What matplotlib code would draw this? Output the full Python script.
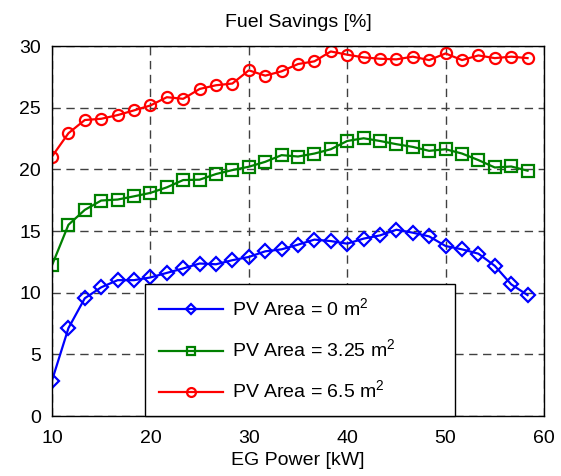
import matplotlib
matplotlib.use('Agg')
import matplotlib.pyplot as plt

plt.rcParams['font.family'] = ['Liberation Sans', 'DejaVu Sans']
plt.rcParams['mathtext.fontset'] = 'custom'
plt.rcParams['mathtext.rm'] = 'Liberation Sans'

# EG power [kW]
eg_power = [10.0, 11.67, 13.33, 15.0, 16.67, 18.33, 20.0, 21.67, 23.33, 25.0,
            26.67, 28.33, 30.0, 31.67, 33.33, 35.0, 36.67, 38.33, 40.0, 41.67,
            43.33, 45.0, 46.67, 48.33, 50.0, 51.67, 53.33, 55.0, 56.67, 58.33]

# Fuel savings [%] for each PV area
pv_0 = [2.88, 7.13, 9.55, 10.44, 11.02, 11.02, 11.24, 11.61, 11.97, 12.37,
        12.31, 12.64, 12.90, 13.36, 13.52, 13.90, 14.31, 14.19, 13.98, 14.39,
        14.65, 15.11, 14.87, 14.57, 13.79, 13.52, 13.17, 12.18, 10.68, 9.81]
pv_325 = [12.23, 15.51, 16.72, 17.48, 17.56, 17.82, 18.10, 18.55, 19.14, 19.17,
          19.63, 19.95, 20.22, 20.62, 21.16, 21.05, 21.29, 21.64, 22.31, 22.53,
          22.31, 22.05, 21.83, 21.51, 21.64, 21.29, 20.76, 20.16, 20.24, 19.90]
pv_65 = [21.05, 22.94, 24.01, 24.11, 24.41, 24.79, 25.19, 25.86, 25.73, 26.53,
         26.83, 26.97, 28.04, 27.61, 27.96, 28.55, 28.77, 29.57, 29.31, 29.09,
         28.98, 28.93, 29.15, 28.87, 29.41, 28.87, 29.25, 29.03, 29.15, 29.03]

labels = ['PV Area = 0 m$^2$', 'PV Area = 3.25 m$^2$', 'PV Area = 6.5 m$^2$']

fig = plt.figure(figsize=(5.61, 4.76), dpi=100)
ax = fig.add_axes([0.0927, 0.126, 0.877, 0.777])

style = dict(linewidth=1.6, markersize=8, markerfacecolor='none', markeredgewidth=1.6)
ax.plot(eg_power, pv_0, color='#0000ff', marker='D', label=labels[0],
        **{**style, 'markersize': 7})
ax.plot(eg_power, pv_325, color='#008000', marker='s', label=labels[1], **style)
ax.plot(eg_power, pv_65, color='#ff0000', marker='o', label=labels[2], **style)

ax.set_xlim(10, 60)
ax.set_ylim(0, 30)
ax.set_xticks([10, 20, 30, 40, 50, 60])
ax.set_yticks([0, 5, 10, 15, 20, 25, 30])
ax.grid(True, color='#404040', linestyle=(0, (6, 4)), linewidth=1.0)
ax.tick_params(labelsize=14, direction='in', length=0)
ax.tick_params(axis='x', pad=10)
ax.tick_params(axis='y', pad=8)
for s in ax.spines.values():
    s.set_linewidth(1.0)

ax.set_title('Fuel Savings [%]', fontsize=14, pad=14)
ax.set_xlabel('EG Power [kW]', fontsize=14, labelpad=4)

leg = ax.legend(loc='lower left', bbox_to_anchor=(0.189, 0.0, 0.63, 0.351),
                mode='expand', fontsize=14, fancybox=False, framealpha=1,
                edgecolor='black', handlelength=3.3, handletextpad=0.45,
                labelspacing=0.95, borderaxespad=0, borderpad=0.7, markerscale=0.8)
leg.get_frame().set_linewidth(1.0)

fig.savefig('out.png', dpi=100)
